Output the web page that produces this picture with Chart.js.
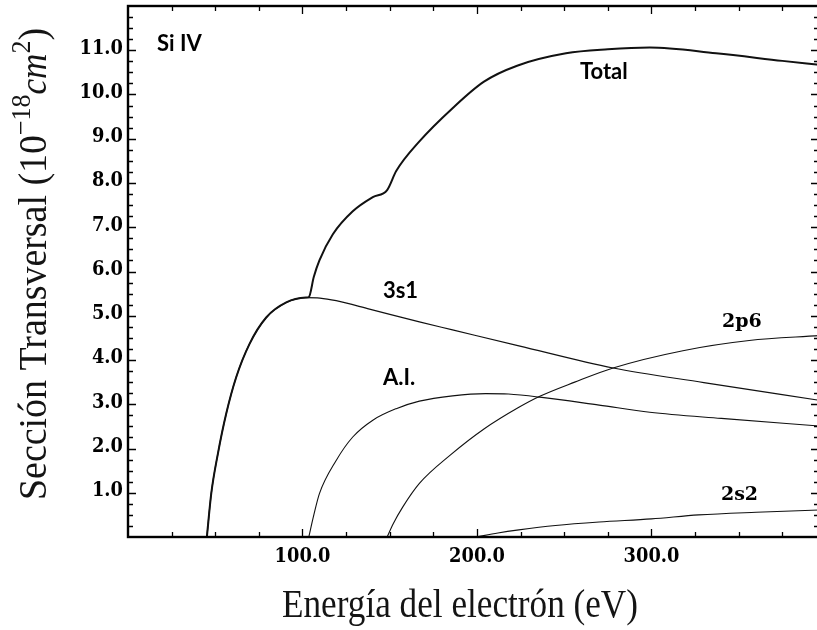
<!DOCTYPE html>
<html>
<head>
<meta charset="utf-8">
<title>Si IV</title>
<script src="https://cdn.jsdelivr.net/npm/chart.js@4.4.1/dist/chart.umd.min.js"></script>
<style>
  html, body { margin: 0; padding: 0; background: #fff; overflow: hidden; }
  #wrap { width: 817px; height: 630px; overflow: hidden; }
</style>
</head>
<body>
<div id="wrap"><canvas id="cross" width="822" height="630"></canvas></div>
<script>
// energies (eV) and cross sections (1e-18 cm^2) for each channel
const e3s1 = [45.2, 47.7, 51.5, 56.3, 62, 69.6, 79.2, 90.7, 102, 110, 119.3, 138.4, 167, 186, 224, 278, 330, 396];
const v3s1 = [0, 0.98, 1.88, 2.79, 3.61, 4.36, 4.96, 5.30, 5.41, 5.40, 5.34, 5.15, 4.86, 4.68, 4.32, 3.82, 3.49, 3.09];

const eAI = [103.6, 106.5, 109.7, 119.3, 128.8, 140.3, 153.7, 167, 186, 205, 218, 236, 270, 299, 340, 396];
const vAI = [0, 0.5, 0.98, 1.73, 2.26, 2.64, 2.90, 3.07, 3.19, 3.24, 3.23, 3.16, 2.98, 2.82, 2.68, 2.51];

const e2p6 = [148.5, 152, 157.5, 167, 185, 204, 224, 236, 256, 278, 318, 356, 396];
const v2p6 = [0, 0.3, 0.68, 1.21, 1.86, 2.44, 2.93, 3.18, 3.50, 3.82, 4.21, 4.44, 4.55];

const e2s2 = [199.7, 212, 224, 245, 270, 300, 327, 360, 396];
const v2s2 = [0, 0.09, 0.16, 0.26, 0.34, 0.41, 0.50, 0.56, 0.61];

const eTotal = [45.2, 47.7, 51.5, 56.3, 62, 69.6, 79.2, 90.7, 102, 103.6, 106.5, 109.7, 117.4, 128.8, 140.3, 148.5, 153.7, 167, 186, 204, 223, 251, 275, 299, 337, 375, 396];
const vTotal = [0, 0.98, 1.88, 2.79, 3.61, 4.36, 4.96, 5.30, 5.41, 5.42, 5.88, 6.25, 6.84, 7.36, 7.68, 7.84, 8.27, 8.94, 9.69, 10.29, 10.65, 10.93, 11.02, 11.06, 10.93, 10.76, 10.67];

const xTickLabels = [100, 200, 300];
const yTickLabels = [1, 2, 3, 4, 5, 6, 7, 8, 9, 10, 11];

// curve names, anchored in data units (left edge, baseline)
const curveNames = ['Si IV', 'Total', '3s1', 'A.I.', '2p6', '2s2'];
const nameX = [16.6, 259, 146.1, 146.1, 340.4, 339.8];
const nameY = [10.98, 10.35, 5.40, 3.43, 4.75, 0.84];
const nameSerif = [false, false, false, false, true, true];

const pts = (e, v) => e.map((x, i) => ({ x: x, y: v[i] }));

function curve(label, e, v, width) {
  return {
    label: label,
    data: pts(e, v),
    borderColor: '#111',
    borderWidth: width,
    pointRadius: 0,
    fill: false,
    cubicInterpolationMode: 'monotone'
  };
}

const tickFont = 'bold 21px "DejaVu Serif"';

// tick label squeezed a little sideways, like a condensed face
function tickText(ctx, s, px, py, align) {
  ctx.save();
  ctx.translate(px, py);
  ctx.scale(0.85, 1);
  ctx.textAlign = align;
  ctx.fillText(s, 0, 0);
  ctx.restore();
}

// frame with inward ticks on all four sides, names and axis titles
const decor = {
  id: 'decor',
  afterDraw(chart) {
    const ctx = chart.ctx, a = chart.chartArea;
    const x = chart.scales.x, y = chart.scales.y;
    ctx.save();
    ctx.strokeStyle = '#000';
    ctx.lineWidth = 1.3;
    ctx.beginPath();
    for (let v = 25; v < x.max; v += 25) {
      const px = Math.round(x.getPixelForValue(v)) + 0.5;
      const len = v % 100 === 0 ? 8 : 5;
      ctx.moveTo(px, a.bottom); ctx.lineTo(px, a.bottom - len);
      ctx.moveTo(px, a.top); ctx.lineTo(px, a.top + len);
    }
    for (let v = 0.25; v < y.max; v += 0.25) {
      const py = Math.round(y.getPixelForValue(v)) + 0.5;
      const len = Number.isInteger(v) ? 8 : 5;
      ctx.moveTo(a.left, py); ctx.lineTo(a.left + len, py);
      ctx.moveTo(a.right, py); ctx.lineTo(a.right - len, py);
    }
    ctx.stroke();
    ctx.lineWidth = 2.4;
    ctx.strokeRect(a.left, a.top, a.right - a.left, a.bottom - a.top);

    ctx.fillStyle = '#000';
    ctx.font = tickFont;
    ctx.textBaseline = 'top';
    xTickLabels.forEach(v => tickText(ctx, v.toFixed(1), x.getPixelForValue(v), a.bottom + 9, 'center'));
    ctx.textBaseline = 'middle';
    yTickLabels.forEach(v => tickText(ctx, v.toFixed(1), a.left - 5, y.getPixelForValue(v) - 2, 'right'));

    ctx.textBaseline = 'alphabetic';
    ctx.textAlign = 'left';
    curveNames.forEach((n, i) => {
      ctx.font = nameSerif[i] ? 'bold 19px "DejaVu Serif"' : 'bold 22px Lato';
      ctx.fillText(n, x.getPixelForValue(nameX[i]), y.getPixelForValue(nameY[i]));
    });

    // x title
    drawRun(ctx, [{ t: 'Energía del electrón (eV)', f: '41px "Liberation Serif"', dy: 0 }], 460, 617, 356, 0);
    // y title, read bottom to top
    drawRun(ctx, [
      { t: 'Sección Transversal (10', f: '41px "Liberation Serif"', dy: 0 },
      { t: '−18', f: '28px "Liberation Serif"', dy: -16 },
      { t: 'cm', f: 'italic 38px "Liberation Serif"', dy: 0 },
      { t: '2', f: '28px "Liberation Serif"', dy: -16 },
      { t: ')', f: '41px "Liberation Serif"', dy: 0 }
    ], 46, 264, 472, -Math.PI / 2);
    ctx.restore();
  }
};

// draws text pieces in a row, squeezed to the given length
function drawRun(ctx, parts, cx, cy, length, angle) {
  let w = 0;
  parts.forEach(p => { ctx.font = p.f; p.w = ctx.measureText(p.t).width; w += p.w; });
  ctx.save();
  ctx.translate(cx, cy);
  ctx.rotate(angle);
  ctx.scale(length / w, 1);
  ctx.fillStyle = '#141414';
  ctx.textAlign = 'left';
  ctx.textBaseline = 'alphabetic';
  let pos = -w / 2;
  parts.forEach(p => {
    ctx.font = p.f;
    ctx.fillText(p.t, pos, p.dy);
    pos += p.w;
  });
  ctx.restore();
}

new Chart(document.getElementById('cross'), {
  type: 'line',
  data: {
    datasets: [
      curve('Total', eTotal, vTotal, 2),
      curve('3s1', e3s1, v3s1, 1.2),
      curve('A.I.', eAI, vAI, 1.1),
      curve('2p6', e2p6, v2p6, 1.1),
      curve('2s2', e2s2, v2s2, 1.1)
    ]
  },
  options: {
    responsive: false,
    animation: false,
    devicePixelRatio: 1,
    layout: { padding: { left: 0, top: 6, right: 3, bottom: 0 } },
    plugins: { legend: { display: false }, tooltip: { enabled: false } },
    scales: {
      x: {
        type: 'linear',
        min: 0,
        max: 396,
        grid: { display: false, drawTicks: false },
        border: { display: false },
        ticks: { display: false, stepSize: 100 },
        afterFit: s => { s.height = 93; s.paddingLeft = 0; s.paddingRight = 0; }
      },
      y: {
        min: 0,
        max: 12,
        grid: { display: false, drawTicks: false },
        border: { display: false },
        ticks: { display: false, stepSize: 1 },
        afterFit: s => { s.width = 128; s.paddingTop = 0; s.paddingBottom = 0; }
      }
    }
  },
  plugins: [decor]
});
</script>
</body>
</html>
